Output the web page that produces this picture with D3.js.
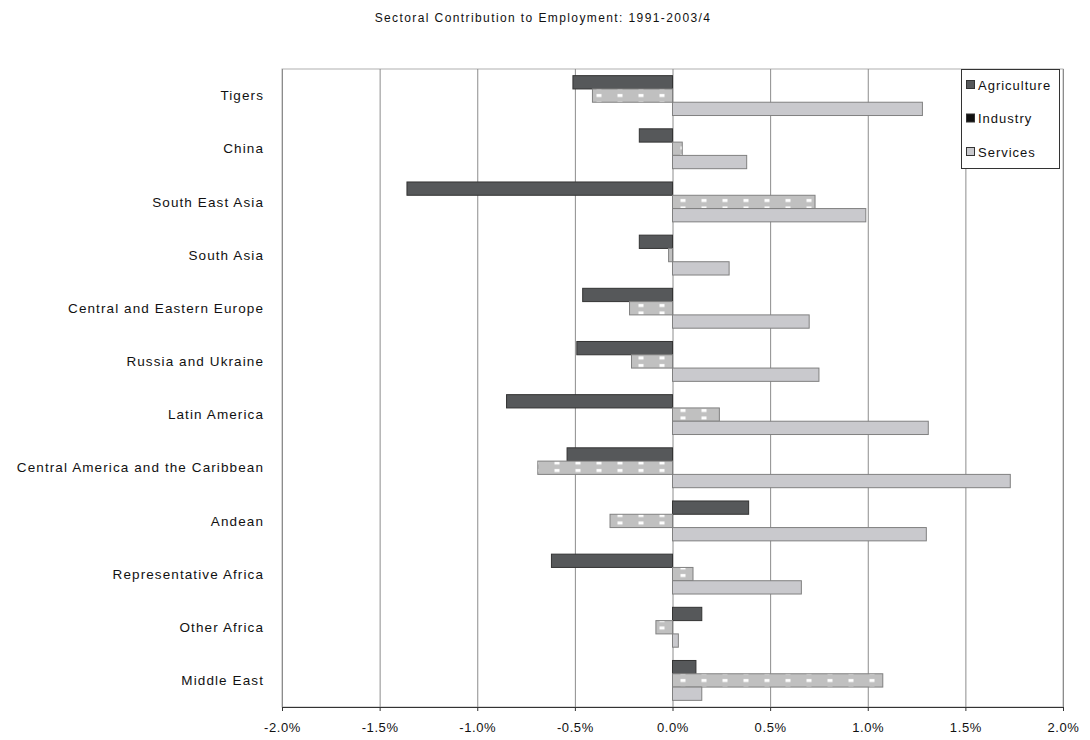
<!DOCTYPE html>
<html><head><meta charset="utf-8">
<script src="https://cdn.jsdelivr.net/npm/d3@7"></script>
<style>body{margin:0;background:#fff}svg{display:block}text{font-family:"Liberation Sans",Arial,sans-serif;fill:#111}</style>
</head><body>
<svg id="c" width="1090" height="740"></svg>
<script>
const title = "Sectoral Contribution to Employment: 1991-2003/4";
const categories = ["Tigers","China","South East Asia","South Asia","Central and Eastern Europe","Russia and Ukraine","Latin America","Central America and the Caribbean","Andean","Representative Africa","Other Africa","Middle East"];
const seriesNames = ["Agriculture","Industry","Services"];
const agriculture = [-0.51,-0.17,-1.36,-0.17,-0.46,-0.49,-0.85,-0.54,0.39,-0.62,0.15,0.12];
const industry    = [-0.41,0.05,0.73,-0.02,-0.22,-0.21,0.24,-0.69,-0.32,0.105,-0.085,1.077];
const services    = [1.28,0.38,0.99,0.29,0.70,0.75,1.31,1.73,1.30,0.66,0.03,0.15];
const xTicks = [-2,-1.5,-1,-0.5,0,0.5,1,1.5,2];

const svg = d3.select("#c");
const L=282, R=1063, T=69, B=707;
const x = d3.scaleLinear().domain([-2,2]).range([L,R]);
const y = d3.scaleBand().domain(categories).range([T,B]).paddingInner(0.25).paddingOuter(0.125);
const ys = d3.scaleBand().domain(seriesNames).range([0,y.bandwidth()]);

const defs = svg.append("defs");
const pat = defs.append("pattern").attr("id","ind").attr("patternUnits","userSpaceOnUse")
  .attr("width",21).attr("height",7.5).attr("x",x(0)).attr("y",T+0.5);
pat.append("rect").attr("width",21).attr("height",7.5).attr("fill","#c0c0c0");
pat.append("rect").attr("x",8).attr("y",2).attr("width",5).attr("height",3).attr("fill","#fff");

const fills = {Agriculture:"#56585a",Industry:"url(#ind)",Services:"#c9c9cd"};
const strokes = {Agriculture:"#333",Industry:"#808080",Services:"#808080"};
const legendFills = {Agriculture:"#56585a",Industry:"#111",Services:"#c9c9cd"};

// title
svg.append("text").attr("x",543).attr("y",22).attr("text-anchor","middle").attr("font-size",12)
  .attr("letter-spacing",1.4).text(title);

// plot border
svg.append("rect").attr("x",L).attr("y",T).attr("width",R-L).attr("height",B-T).attr("fill","none").attr("stroke","#b0b0b0");

// gridlines
svg.append("g").selectAll("line").data(xTicks).join("line")
  .attr("x1",d=>x(d)+0.5).attr("x2",d=>x(d)+0.5).attr("y1",T).attr("y2",B)
  .attr("stroke","#8c8c8c").attr("stroke-width",1);

// bars
const data = [agriculture,industry,services];
const g = svg.append("g");
categories.forEach((c,i)=>{
  seriesNames.forEach((s,j)=>{
    const v = data[j][i];
    g.append("rect")
      .attr("x",x(Math.min(0,v))).attr("width",Math.abs(x(v)-x(0)))
      .attr("y",y(c)+ys(s)).attr("height",ys.bandwidth())
      .attr("fill",fills[s]).attr("stroke",strokes[s]).attr("stroke-width",1);
  });
});

// axis
const ax = svg.append("g").attr("transform",`translate(0,${B})`)
  .call(d3.axisBottom(x).tickValues(xTicks).tickSize(4).tickFormat(d=>(d<0?"-":"")+d3.format(".1f")(Math.abs(d))+"%"));
ax.select(".domain").attr("stroke","#333");
ax.selectAll(".tick line").attr("stroke","#333");
ax.selectAll("text").attr("font-size",13).attr("dy","1.35em").attr("letter-spacing",0.6)
  .style("font-family","Liberation Sans, Arial, sans-serif").attr("fill","#111");

// category labels
svg.append("g").selectAll("text").data(categories).join("text")
  .attr("x",264).attr("y",d=>y(d)+y.bandwidth()/2).attr("dy","0.35em").attr("text-anchor","end")
  .attr("font-size",13.5).attr("letter-spacing",1.1).text(d=>d);

// legend
const lg = svg.append("g");
lg.append("rect").attr("x",961.5).attr("y",69.5).attr("width",98).attr("height",99).attr("fill","#fff").attr("stroke","#333");
seriesNames.forEach((s,j)=>{
  const cy = 85 + j*33.5;
  lg.append("rect").attr("x",966.5).attr("y",cy-4.5).attr("width",8).attr("height",8)
    .attr("fill",legendFills[s]).attr("stroke","#333");
  lg.append("text").attr("x",978).attr("y",cy+4.5).attr("font-size",13).attr("letter-spacing",1).text(s);
});
</script>
</body></html>
